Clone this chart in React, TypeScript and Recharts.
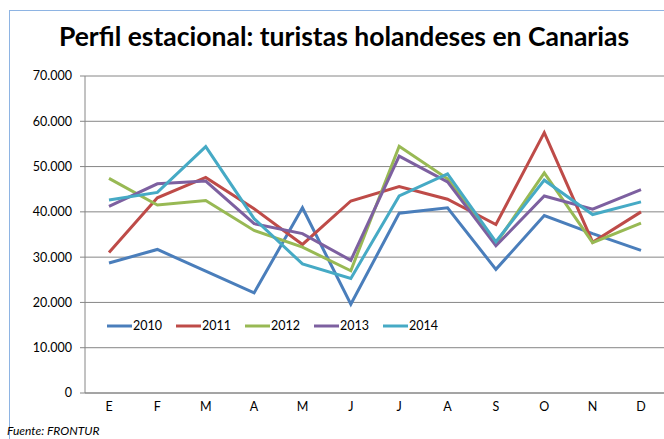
import React from 'react';
import { LineChart, Line, XAxis, YAxis, CartesianGrid, Legend } from 'recharts';

const months = ['E', 'F', 'M', 'A', 'M', 'J', 'J', 'A', 'S', 'O', 'N', 'D'];
const s2010 = [28700, 31700, 26900, 22100, 40900, 19600, 39700, 40900, 27300, 39200, 35200, 31500];
const s2011 = [31000, 43100, 47600, 40700, 32800, 42400, 45600, 42800, 37200, 57500, 33300, 40000];
const s2012 = [47400, 41500, 42500, 35900, 32200, 27000, 54500, 47300, 33000, 48600, 33200, 37500];
const s2013 = [41200, 46200, 46800, 37400, 35200, 29300, 52300, 46600, 32500, 43500, 40600, 44900];
const s2014 = [42600, 44300, 54400, 38500, 28500, 25300, 43500, 48400, 33400, 47000, 39400, 42200];
const yTicks = [0, 10000, 20000, 30000, 40000, 50000, 60000, 70000];

const seriesNames = ['2010', '2011', '2012', '2013', '2014'];
const seriesValues = [s2010, s2011, s2012, s2013, s2014];
const colors = ['#4A7EBB', '#BE4B48', '#98B954', '#7D60A0', '#46AAC5'];

const data = months.map((m, i) => {
  const row: Record<string, string | number> = { month: m, key: `${m}-${i}` };
  seriesNames.forEach((n, j) => {
    row[n] = seriesValues[j][i];
  });
  return row;
});

const fmt = (v: number) => (v === 0 ? '0' : v.toLocaleString('de-DE'));
const FONT = 'Lato, "Open Sans", sans-serif';

const LegendContent = () => (
  <div style={{ display: 'flex', alignItems: 'center', fontFamily: FONT, fontSize: 12.5, color: '#000' }}>
    {seriesNames.map((n, i) => (
      <div key={n} style={{ display: 'flex', alignItems: 'center', marginRight: 14 }}>
        <svg width={25} height={6} style={{ display: 'block' }}>
          <line x1={0} y1={3} x2={25} y2={3} stroke={colors[i]} strokeWidth={3} />
        </svg>
        <span style={{ marginLeft: 1 }}>{n}</span>
      </div>
    ))}
  </div>
);

export default function App() {
  return (
    <div style={{ position: 'absolute', left: 0, top: 0, width: 664, height: 439, overflow: 'hidden', background: '#fff' }}>
      <div style={{ position: 'absolute', left: 9, top: 10, width: 720, height: 480, border: '1px solid #8EB4E3' }} />
      <div
        style={{
          position: 'absolute',
          left: 0,
          width: 688,
          top: 20,
          textAlign: 'center',
          fontFamily: FONT,
          fontWeight: 700,
          fontSize: 26.5,
          color: '#000',
          lineHeight: '32px',
          whiteSpace: 'nowrap',
        }}
      >
        Perfil estacional: turistas holandeses en Canarias
      </div>
      <div style={{ position: 'absolute', left: 0, top: 0 }}>
        <LineChart width={700} height={439} data={data} margin={{ top: 76, right: 35, left: 0, bottom: 16 }}>
          <CartesianGrid vertical={false} stroke="#868686" strokeWidth={1} />
          <XAxis
            dataKey="key"
            tickFormatter={(v: string) => String(v).split('-')[0]}
            axisLine={{ stroke: '#868686' }}
            tickLine={false}
            tickSize={5}
            tickMargin={4}
            height={30}
            padding={{ left: 24, right: 24 }}
            tick={{ fontFamily: FONT, fontSize: 12.5, fill: '#000' }}
            interval={0}
          />
          <YAxis
            domain={[0, 70000]}
            ticks={yTicks}
            tickFormatter={fmt}
            width={85}
            axisLine={{ stroke: '#868686' }}
            tickLine={{ stroke: '#868686' }}
            tickSize={5}
            tickMargin={8}
            tick={{ fontFamily: FONT, fontSize: 12.5, fill: '#000' }}
            interval={0}
          />
          <Legend
            layout="horizontal"
            verticalAlign="middle"
            content={<LegendContent />}
            wrapperStyle={{ left: 107, top: 318, width: 420, height: 16 }}
          />
          {seriesNames.map((n, i) => (
            <Line
              key={n}
              dataKey={n}
              stroke={colors[i]}
              strokeWidth={3}
              dot={false}
              isAnimationActive={false}
              type="linear"
            />
          ))}
        </LineChart>
      </div>
      <div
        style={{
          position: 'absolute',
          left: 7,
          top: 424,
          fontFamily: FONT,
          fontStyle: 'italic',
          fontSize: 12,
          lineHeight: '14px',
          color: '#000',
        }}
      >
        Fuente: FRONTUR
      </div>
    </div>
  );
}
